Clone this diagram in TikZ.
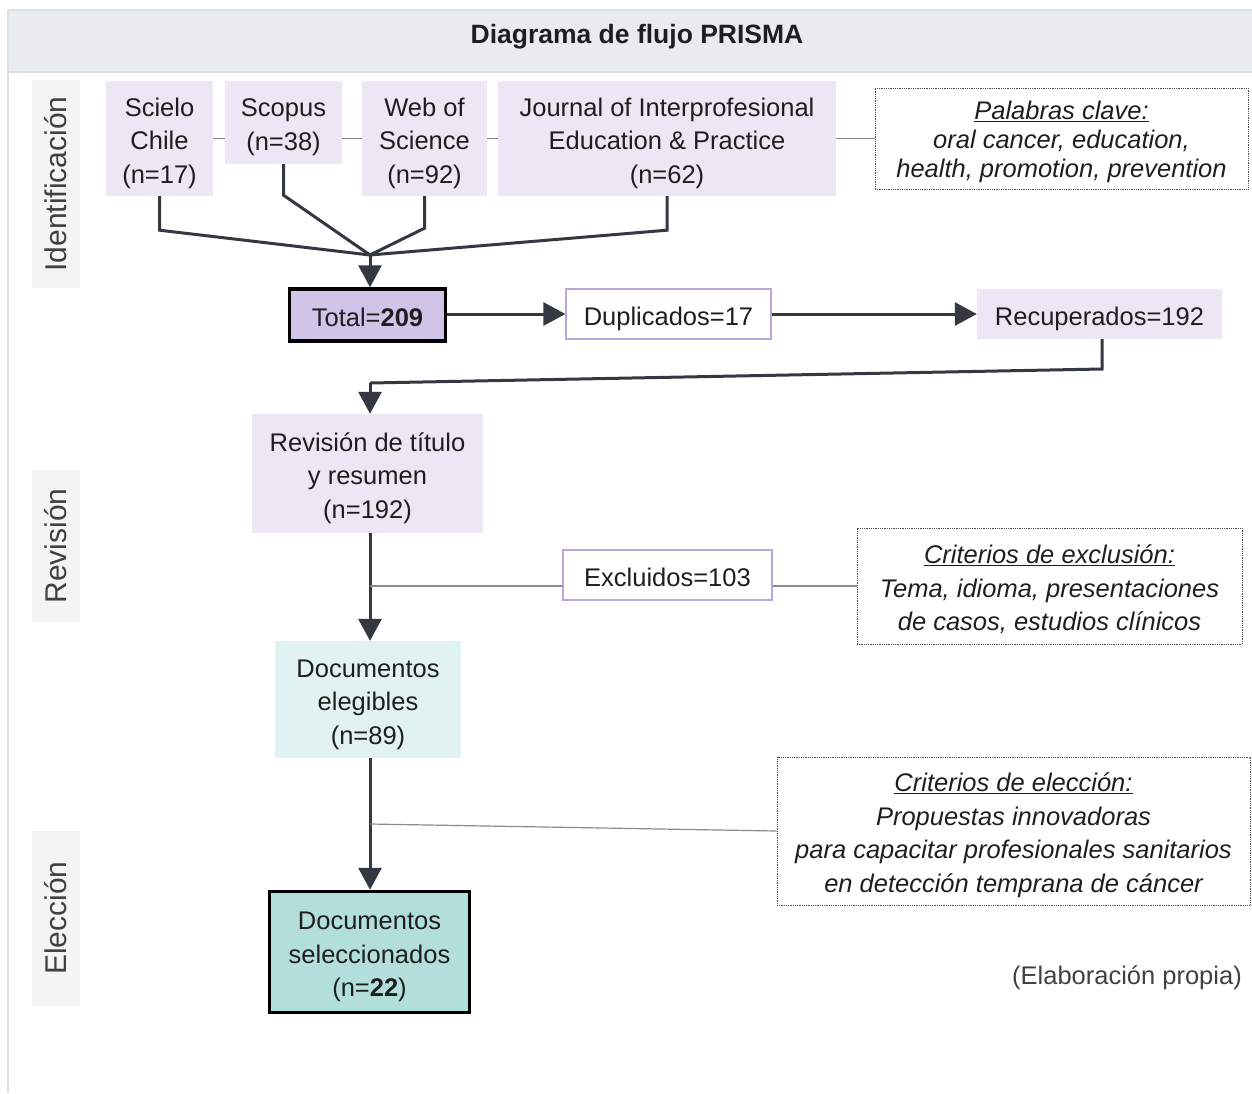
\documentclass[tikz,border=0pt]{standalone}
\usepackage{fontspec}
\setmainfont{Liberation Sans}
\usetikzlibrary{arrows.meta}
\definecolor{hdr}{HTML}{E9ECEF}
\definecolor{hdrline}{HTML}{DCDFE3}
\definecolor{lanefill}{HTML}{F4F4F4}
\definecolor{lav}{HTML}{ECE6F5}
\definecolor{lavdark}{HTML}{D1C4E9}
\definecolor{lavborder}{HTML}{B9A6DE}
\definecolor{tealL}{HTML}{E0F2F1}
\definecolor{tealD}{HTML}{B2DFDB}
\definecolor{arrowc}{HTML}{343841}
\definecolor{thinc}{HTML}{8A8A8A}
\definecolor{txt}{HTML}{1E1E1E}
\newcommand\lowtx[1]{\raisebox{-4.5pt}[\height][\depth]{\begin{tabular}{@{}c@{}}#1\end{tabular}}}
\tikzset{
  base/.style={inner sep=0pt, align=center, text=txt, font=\fontsize{25.5}{33.5}\selectfont},
  srcbox/.style={base, fill=lav},
  darkbox/.style={base, fill=lavdark, draw=black, line width=3.5pt},
  dupbox/.style={base, fill=white, draw=lavborder, line width=1.2pt},
  eligbox/.style={base, fill=tealL},
  selbox/.style={base, fill=tealD, draw=black, line width=3.5pt},
  notebox/.style={base, draw=black!70, densely dotted, line width=0.8pt, font=\fontsize{25.5}{33.5}\selectfont\itshape},
  lanebox/.style={inner sep=0pt, fill=lanefill, text=black!75, font=\fontsize{30}{36}\selectfont},
  flow/.style={draw=arrowc, line width=3pt},
  flowarrow/.style={draw=arrowc, line width=3pt, -{Triangle[width=23pt,length=22pt]}},
  thinline/.style={draw=thinc, line width=1.2pt},
}
\begin{document}
\begin{tikzpicture}[x=1pt,y=-1pt]
\useasboundingbox (0,0) rectangle (1252,1093);
% header and frame
\fill[hdr] (8,10) rectangle (1252,72);
\draw[hdrline, line width=1.5pt] (8,72) -- (1252,72);
\draw[hdrline, line width=1.5pt] (8,10) -- (1252,10);
\draw[hdrline, line width=1.5pt] (8,10) -- (8,1093);
\node[base, font=\fontsize{26.5}{30}\selectfont\bfseries] (title) at (637,37) {Diagrama de flujo PRISMA};
% lane labels
\node[lanebox, minimum width=208pt, minimum height=48pt, rotate=90] (lane1) at (56,184) {Identificación};
\node[lanebox, minimum width=152pt, minimum height=48pt, rotate=90] (lane2) at (56,546) {Revisión};
\node[lanebox, minimum width=175pt, minimum height=48pt, rotate=90] (lane3) at (56,918) {Elección};
% sources
\node[srcbox, minimum width=107pt, minimum height=115pt] (s1) at (159.5,138.5) {\lowtx{Scielo\\Chile\\(n=17)}};
\node[srcbox, minimum width=117pt, minimum height=83pt] (s2) at (283.5,122.5) {\lowtx{Scopus\\(n=38)}};
\node[srcbox, minimum width=125pt, minimum height=115pt] (s3) at (424.5,138.5) {\lowtx{Web of\\Science\\(n=92)}};
\node[srcbox, minimum width=338pt, minimum height=115pt] (s4) at (667,138.5) {\lowtx{Journal of Interprofesional\\Education \& Practice\\(n=62)}};
\node[notebox, minimum width=373pt, minimum height=101pt, font=\fontsize{25.5}{29}\selectfont\itshape] (kw) at (1061.5,138.5) {\lowtx{\underline{Palabras clave:}\\oral cancer, education,\\health, promotion, prevention}};
% thin links between sources
\draw[thinline] (s1.east) -- (s2.west |- s1.east);
\draw[thinline] (s2.east |- s1.east) -- (s3.west);
\draw[thinline] (s3.east) -- (s4.west);
\draw[thinline] (s4.east) -- (kw.west);
% merging connectors
\coordinate (j) at (370,255);
\draw[flow] (s1.south) -- ++(0,34) -- (j);
\draw[flow] (s2.south) -- ++(0,31) -- (j);
\draw[flow] (s3.south) -- ++(0,32) -- (j);
\draw[flow] (s4.south) -- ++(0,34) -- (j);
% total row
\node[darkbox, minimum width=156pt, minimum height=52pt] (tot) at (367.5,315) {\lowtx{Total=\textbf{209}}};
\node[dupbox, minimum width=205pt, minimum height=50pt] (dup) at (668.5,314) {\lowtx{Duplicados=17}};
\node[srcbox, minimum width=245pt, minimum height=50pt] (rec) at (1099.5,314) {\lowtx{Recuperados=192}};
\draw[flowarrow] (j) -- (j |- tot.north);
\draw[flowarrow] (tot.east |- dup.west) -- (dup.west);
\draw[flowarrow] (dup.east) -- (rec.west);
% review
\node[srcbox, minimum width=231pt, minimum height=119pt] (rev) at (367.5,473.5) {\lowtx{Revisión de título\\y resumen\\(n=192)}};
\coordinate (r1) at (1102,369);
\coordinate (r2) at (370,383);
\draw[flow] (rec.south -| r1) -- (r1) -- (r2);
\draw[flowarrow] (r2) -- (r2 |- rev.north);
\node[eligbox, minimum width=186pt, minimum height=117pt] (eli) at (368,699.5) {\lowtx{Documentos\\elegibles\\(n=89)}};
\draw[flowarrow] (rev.south -| r2) -- (r2 |- eli.north);
\node[dupbox, minimum width=209pt, minimum height=50pt] (exc) at (667.5,575) {\lowtx{Excluidos=103}};
\node[notebox, minimum width=385pt, minimum height=116pt] (crx) at (1049.5,586) {\lowtx{\underline{Criterios de exclusión:}\\Tema, idioma, presentaciones\\de casos, estudios clínicos}};
\coordinate (e1) at (370,586);
\draw[thinline] (e1) -- (exc.west |- e1);
\draw[thinline] (exc.east |- e1) -- (crx.west);
% selection
\node[selbox, minimum width=200pt, minimum height=121pt] (sel) at (369.5,952) {\lowtx{Documentos\\seleccionados\\(n=\textbf{22})}};
\draw[flowarrow] (eli.south -| r2) -- (r2 |- sel.north);
\node[notebox, minimum width=473pt, minimum height=148pt] (cre) at (1013.5,831) {\lowtx{\underline{Criterios de elección:}\\Propuestas innovadoras\\para capacitar profesionales sanitarios\\en detección temprana de cáncer}};
\coordinate (e2) at (370,824);
\draw[thinline] (e2) -- (cre.west);
% source note
\node[base, text=black!75, anchor=east] (src) at (1242,978) {(Elaboración propia)};
\end{tikzpicture}
\end{document}
